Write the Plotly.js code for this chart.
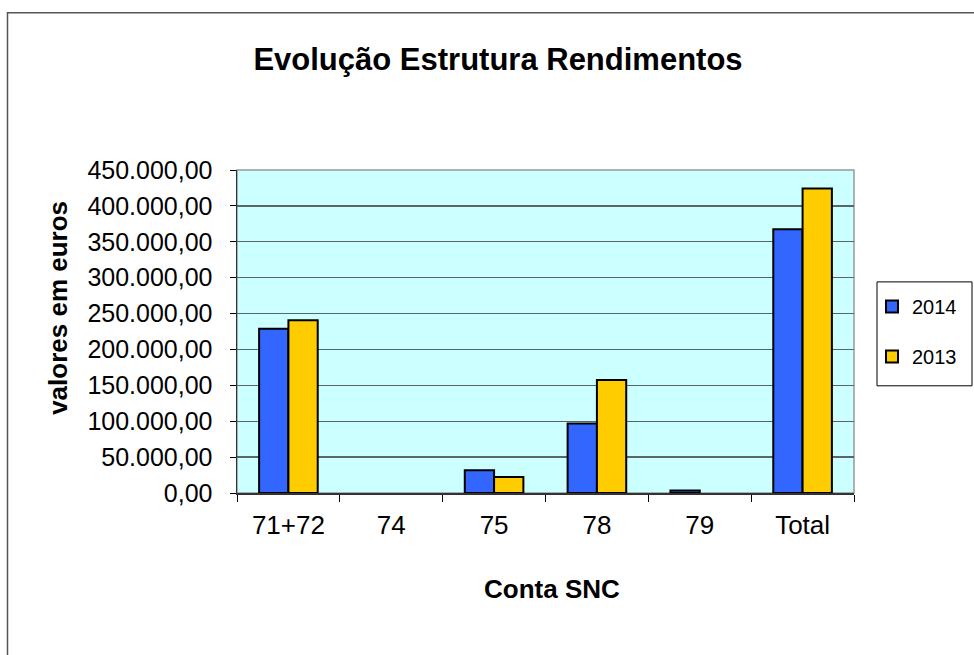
<!DOCTYPE html>
<html>
<head>
<meta charset="utf-8">
<script src="https://cdn.plot.ly/plotly-3.0.1.min.js"></script>
<style>
  html, body { margin: 0; padding: 0; background: #ffffff; }
  #chart { width: 974px; height: 655px; }
</style>
</head>
<body>
<div id="chart"></div>
<script>
const categories = ["71+72", "74", "75", "78", "79", "Total"];
const values2014 = [229000, null, 31700, 96900, 3500, 367600];
const values2013 = [240500, null, 22400, 157400, null, 424300];
const seriesNames = ["2014", "2013"];
const chartTitle = "Evolução Estrutura Rendimentos";
const xTitle = "Conta SNC";
const yTitle = "valores em euros";

const FONT = "'Liberation Sans', Arial, Helvetica, sans-serif";

// pixel helpers for the fixed plot area (237..854 x 170..493.3)
const PL = 237, PW = 617, PB = 493.3, PH = 323.3;
const px = v => (v - PL) / PW;
const py = v => (PB - v) / PH;

const traces = [
  {
    type: "bar",
    name: seriesNames[0],
    x: categories,
    y: values2014,
    legendgroup: "a",
    marker: { color: "#3366FF", line: { color: "#000000", width: 2 } },
    hoverinfo: "x+y+name"
  },
  {
    type: "bar",
    name: seriesNames[1],
    x: categories,
    y: values2013,
    legendgroup: "b",
    marker: { color: "#FFCC00", line: { color: "#000000", width: 2 } },
    hoverinfo: "x+y+name"
  }
];

const layout = {
  width: 974,
  height: 655,
  margin: { l: 237, r: 120, t: 170, b: 162, pad: 0 },
  paper_bgcolor: "#ffffff",
  plot_bgcolor: "#CCFFFF",
  separators: ",.",
  barmode: "group",
  bargap: 0.43,
  bargroupgap: 0,
  font: { family: FONT, color: "#000000" },
  title: {
    text: "<b>" + chartTitle + "</b>",
    font: { family: FONT, size: 31, color: "#000000" },
    x: 498 / 974,
    xanchor: "center",
    xref: "container",
    y: 1 - 59 / 655,
    yanchor: "middle",
    yref: "container"
  },
  xaxis: {
    type: "category",
    tickson: "boundaries",
    ticks: "outside",
    ticklen: 7,
    tickwidth: 1,
    tickcolor: "#000000",
    ticklabelstandoff: 8,
    tickfont: { family: FONT, size: 26, color: "#000000" },
    showline: true,
    linecolor: "#333333",
    linewidth: 1.5,
    showgrid: false,
    zeroline: false,
    automargin: false
  },
  yaxis: {
    range: [0, 450000],
    dtick: 50000,
    tick0: 0,
    tickformat: ",.2f",
    ticks: "outside",
    ticklen: 6,
    tickwidth: 1,
    tickcolor: "#000000",
    ticklabelstandoff: 12,
    tickfont: { family: FONT, size: 25, color: "#000000" },
    showline: true,
    linecolor: "#333333",
    linewidth: 1.5,
    showgrid: true,
    gridcolor: "#5a6666",
    gridwidth: 1.3,
    zeroline: false,
    automargin: false
  },
  annotations: [
    {
      text: "<b>" + xTitle + "</b>",
      xref: "paper", yref: "paper",
      x: px(551.5), y: py(589),
      xanchor: "center", yanchor: "middle",
      showarrow: false,
      font: { family: FONT, size: 26, color: "#000000" }
    },
    {
      text: "<b>" + yTitle + "</b>",
      xref: "paper", yref: "paper",
      x: px(58), y: py(308),
      xanchor: "center", yanchor: "middle",
      textangle: -90,
      showarrow: false,
      font: { family: FONT, size: 26, color: "#000000" }
    }
  ],
  legend: {
    x: px(872),
    xanchor: "left",
    y: py(287),
    yanchor: "top",
    bgcolor: "rgba(0,0,0,0)",
    borderwidth: 0,
    font: { family: FONT, size: 20, color: "#000000" },
    traceorder: "grouped",
    tracegroupgap: 21
  },
  shapes: [
    {
      type: "rect", xref: "paper", yref: "paper",
      x0: 0, x1: 1, y0: 0, y1: 1,
      line: { color: "#999999", width: 1.5 },
      layer: "below"
    },
    {
      type: "rect", xref: "paper", yref: "paper",
      x0: px(877), x1: px(972), y0: py(386), y1: py(282),
      line: { color: "#000000", width: 1 },
      fillcolor: "#ffffff",
      layer: "below"
    },
    {
      type: "rect", xref: "paper", yref: "paper",
      x0: px(7.5), x1: px(980),
      y0: py(665), y1: py(12.5),
      line: { color: "#555555", width: 1.5 },
      layer: "above"
    }
  ]
};

Plotly.newPlot("chart", traces, layout, { displayModeBar: false, staticPlot: true });
</script>
</body>
</html>
